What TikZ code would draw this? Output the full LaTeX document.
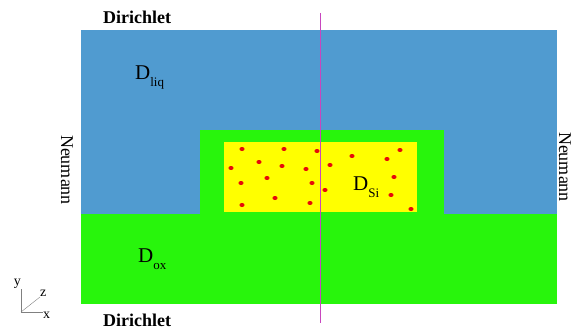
\documentclass[tikz,border=0pt]{standalone}
\usepackage{fontspec}
\setmainfont{Liberation Serif}
\usepackage{tikz}
\definecolor{liq-blue}{RGB}{80,155,208}
\definecolor{ox-green}{RGB}{40,245,12}
\definecolor{si-yellow}{RGB}{255,255,0}
\definecolor{ion-red}{RGB}{230,10,10}
\definecolor{cut-magenta}{RGB}{200,70,190}
\newcommand{\regionD}[1]{{\fontsize{21}{21}\selectfont D}\raisebox{-7pt}{\fontsize{13}{13}\selectfont #1}}

\begin{document}
\begin{tikzpicture}[x=1pt, y=-1pt]
\useasboundingbox (0,0) rectangle (572,334);

% Liquid
\fill[liq-blue] (81,30) rectangle (557,214);
% Oxide
\fill[ox-green] (81,214) rectangle (557,304);
\fill[ox-green] (200,130) rectangle (444,214);
% Silicon
\fill[si-yellow] (224,142) rectangle (417,212);

% Ions
\foreach \ix/\iy in {242/149, 284/149, 317/151, 352/156, 400/150, 387/159,
    259/162, 231/168, 282/166, 306/169, 330/165, 241/183, 267/178, 312/183,
    394/177, 325/190, 275/198, 242/205, 310/203, 391/195, 411/209}
  \fill[ion-red] (\ix,\iy) ellipse (2.6pt and 2pt);

% Cut line
\draw[cut-magenta, line width=1pt] (320,13) -- (320,323);

% Region labels
\node[anchor=base west, inner sep=0pt] (dliq) at (135,80)  {\regionD{liq}};
\node[anchor=base west, inner sep=0pt] (dox)  at (138,262) {\regionD{ox}};
\node[anchor=base west, inner sep=0pt] (dsi)  at (353,190) {\regionD{Si}};

% Boundary conditions
\node[font=\bfseries\fontsize{18}{18}\selectfont] (dirtop) at (137,17)  {Dirichlet};
\node[font=\bfseries\fontsize{18}{18}\selectfont] (dirbot) at (137,320) {Dirichlet};
\node[rotate=-90, font=\fontsize{18}{18}\selectfont] (neuleft)  at (67,170)  {Neumann};
\node[rotate=-90, inner sep=1pt, font=\fontsize{18}{18}\selectfont] (neuright) at (565,167) {Neumann};

% Axes
\coordinate (o) at (21,312);
\draw[gray] (o) -- (21,289) node[above left, inner sep=0pt, black, font=\fontsize{14}{14}\selectfont] (ylab) {y};
\draw[gray] (o) -- (43,312) node[below right, inner sep=0pt, black, font=\fontsize{14}{14}\selectfont] (xlab) {x};
\draw[gray] (o) -- (40,297) node[above right, inner sep=0pt, black, font=\fontsize{14}{14}\selectfont] (zlab) {z};

\end{tikzpicture}
\end{document}
